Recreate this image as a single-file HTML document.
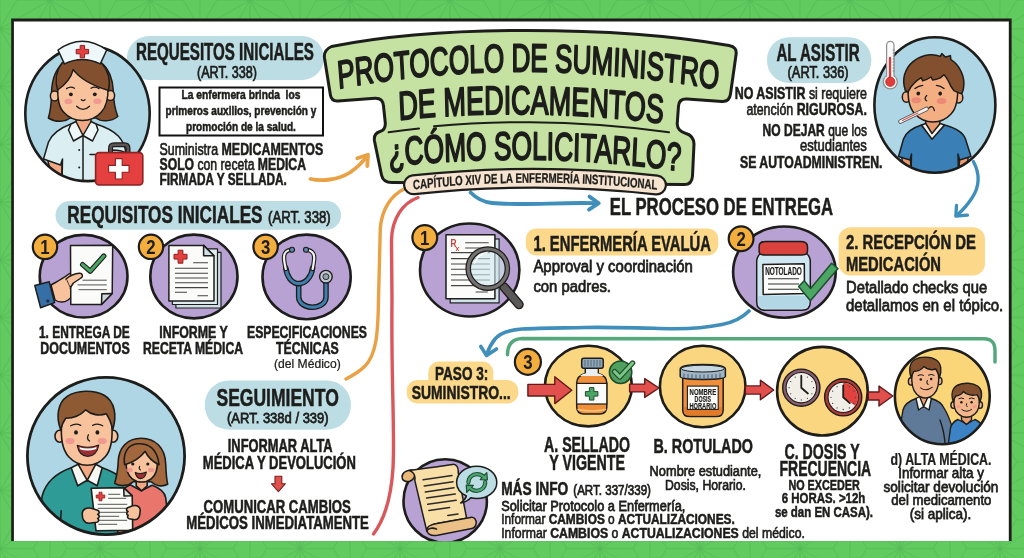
<!DOCTYPE html>
<html lang="es"><head><meta charset="utf-8"><title>Protocolo de suministro de medicamentos</title>
<style>
html,body{margin:0;padding:0;background:#62cb5f;}
body{width:1024px;height:558px;overflow:hidden;font-family:"Liberation Sans",sans-serif;}
svg{display:block;font-family:"Liberation Sans",sans-serif;will-change:transform;-webkit-font-smoothing:antialiased;}
</style></head><body>
<svg width="1024" height="558" viewBox="0 0 1024 558">
<defs>
<pattern id="bgp" width="100" height="57.735" patternUnits="userSpaceOnUse">
<path d="M0.00 0.00 L0.00 57.73 M50.00 0.00 L50.00 57.73 M100.00 0.00 L100.00 57.73 M0.00 28.87 L50.00 0.00 M0.00 28.87 L50.00 57.73 M100.00 28.87 L50.00 0.00 M100.00 28.87 L50.00 57.73 M33.33 28.87 L0.00 28.87 M33.33 28.87 L50.00 0.00 M33.33 28.87 L50.00 57.73 M66.67 28.87 L100.00 28.87 M66.67 28.87 L50.00 0.00 M66.67 28.87 L50.00 57.73 M16.67 0.00 L0.00 28.87 M16.67 0.00 L50.00 0.00 M83.33 0.00 L100.00 28.87 M83.33 0.00 L50.00 0.00 M16.67 57.73 L0.00 28.87 M16.67 57.73 L50.00 57.73 M83.33 57.73 L100.00 28.87 M83.33 57.73 L50.00 57.73" stroke="#53b855" stroke-width="0.8" fill="none"/>
</pattern>
<clipPath id="cpNurse"><ellipse cx="87.5" cy="113.6" rx="62.2" ry="67.5"/></clipPath>
<clipPath id="cpBoy"><ellipse cx="934.9" cy="105" rx="60.5" ry="67.7"/></clipPath>
<clipPath id="cpFam"><circle cx="106" cy="456" r="78.6"/></clipPath>
<clipPath id="cpD"><ellipse cx="942.3" cy="396.2" rx="47.4" ry="48"/></clipPath>
<clipPath id="cpScroll"><circle cx="446" cy="503" r="43.5"/></clipPath>
</defs>
<rect width="1024" height="558" fill="#62cb5f"/>
<rect width="1024" height="558" fill="url(#bgp)"/>
<rect x="11.2" y="18.5" width="1000.4" height="530" fill="#1d1d1b"/>
<rect x="13.9" y="21.5" width="994.9" height="519.8" fill="#ffffff"/>
<rect x="0" y="541.3" width="1024" height="20" fill="#62cb5f"/>
<rect x="0" y="541.3" width="1024" height="20" fill="url(#bgp)"/>
<g fill="none" stroke-linecap="round" stroke-linejoin="round">
<path d="M404 189 C392 195 382 208 380.3 228 L378.5 300 C378 335 376 355 365 366 C360 371 354 375 346 379" stroke="#e9a145" stroke-width="3.4"/>
<path d="M418 197.5 C403 203 392 218 391.5 240 L392 300 C391 380 395 430 393 468 C391 500 384 520 373.5 534" stroke="#d9585c" stroke-width="3.4"/>
<path d="M310.5 179 C322 181.5 338 180 350 172.5 C358 167 363.5 161 367 156" stroke="#e9a145" stroke-width="3.8"/>
<path d="M357.3 158.3 L368 154.8 L367.3 166" stroke="#e9a145" stroke-width="3.8"/>
<path d="M470.6 192.5 C476 198 482 202 492 203 C520 206 560 202 596 203.2" stroke="#3f8fba" stroke-width="3.8"/>
<path d="M589.5 196.6 L598.8 203.2 L589 209.6" stroke="#3f8fba" stroke-width="3.8"/>
<path d="M973.4 161.5 C979.5 173 980 186 972 198 C967 205.5 962 211 957 215" stroke="#3f8fba" stroke-width="3.3"/>
<path d="M956.5 205.5 L955.8 216 L967.5 215.2" stroke="#3f8fba" stroke-width="3.3"/>
<path d="M749 311 C742 318 735 322 722 324.5 C705 328 690 329 670 328.7 C640 328 610 327 585 327.5 C560 328 540 328 522 329 C508 330 500 333 495 339 C491 344 488.5 349 487 354" stroke="#3f8fba" stroke-width="3.6"/>
<path d="M480.8 346.5 L486.6 355.6 L496.5 349" stroke="#3f8fba" stroke-width="3.6"/>
<path d="M507.5 354.7 C507.5 346 511 339 522 338.5 L984 338.8 C992 339 995 343 995 351 L995 362" stroke="#54a87c" stroke-width="3.5"/>
</g>
<rect x="127.0" y="36.0" width="197.0" height="44.0" rx="22.0" fill="#bcdde3"/>
<ellipse cx="87.5" cy="113.6" rx="62.2" ry="67.5" fill="#aed6e5"/>
<g clip-path="url(#cpNurse)">
<path d="M64.4 62 C56 68 52 80 51.5 92 C51.5 103 50.5 111 48.4 118 C56 123 66 121.5 70 118 L96 118 C101 122 111 122 117.8 116.5 C114.5 108 113.5 100 113.3 91 C113 80 109 68 100.3 62 Z" fill="#82502e" stroke="#1d1d1b" stroke-width="1.5" stroke-linejoin="round" stroke-linecap="round"/>
<path d="M47 157 L52 178 L62 181 L62 160 Z" fill="#f2a983" stroke="#1d1d1b" stroke-width="1.5" stroke-linejoin="round" stroke-linecap="round"/>
<path d="M71 124 C60 128 52 134 48.5 142 L43.5 159 L60.5 165 L62.5 159 L62 185 L112 185 L112 150 C118 150 123 151 126 153 C124 140 118 131 96 124 L83 135 Z" fill="#dbeff3" stroke="#1d1d1b" stroke-width="1.5" stroke-linejoin="round" stroke-linecap="round"/>
<path d="M76 114 L76 124 L83 136 L91 124 L91 114 Z" fill="#f2a983" stroke="#1d1d1b" stroke-width="1.5" stroke-linejoin="round" stroke-linecap="round"/>
<path d="M71 124 L76 121.5 L83 135.5 L73.5 141 L68.5 130 Z" fill="#eef8fa" stroke="#1d1d1b" stroke-width="1.5" stroke-linejoin="round" stroke-linecap="round"/>
<path d="M96 124 L91 121.5 L83 135.5 L92.5 141 L98 130 Z" fill="#eef8fa" stroke="#1d1d1b" stroke-width="1.5" stroke-linejoin="round" stroke-linecap="round"/>
<path d="M83 136 L83 185" fill="none" stroke="#1d1d1b" stroke-width="1.5" stroke-linejoin="round" stroke-linecap="round"/>
<path d="M90 154.5 L101 154.5" fill="none" stroke="#1d1d1b" stroke-width="1.5" stroke-linejoin="round" stroke-linecap="round"/>
<circle cx="79.2" cy="150" r="1" fill="#1d1d1b"/><circle cx="79.2" cy="167.5" r="1" fill="#1d1d1b"/>
<ellipse cx="54.6" cy="96" rx="4.2" ry="5" fill="#f7c29c" stroke="#1d1d1b" stroke-width="1.5" stroke-linejoin="round" stroke-linecap="round"/><ellipse cx="110.4" cy="95.5" rx="4.2" ry="5" fill="#f7c29c" stroke="#1d1d1b" stroke-width="1.5" stroke-linejoin="round" stroke-linecap="round"/>
<path d="M58 86 C57 100 59.5 108 64 112.5 C69 118 76 120.5 82.5 120.5 C89 120.5 96 118 101 112.5 C105.5 108 108.5 100 108 86 C106 72 96 66 83 66 C70 66 60 72 58 86 Z" fill="#f7c29c" stroke="#1d1d1b" stroke-width="1.5" stroke-linejoin="round" stroke-linecap="round"/>
<path d="M62 63 C55 72 55.5 83 57.6 90 C65 85 71 78 73.2 69.6 C80 79 94 86 108.6 90.5 C110.5 80 108 70 101.5 63 C90 58 73 58 62 63 Z" fill="#82502e" stroke="#1d1d1b" stroke-width="1.5" stroke-linejoin="round" stroke-linecap="round"/>
<circle cx="70.9" cy="94.3" r="1.9" fill="#1d1d1b"/><circle cx="94.8" cy="94.3" r="1.9" fill="#1d1d1b"/>
<path d="M66.5 88.6 Q70.5 86 74.5 88.2 M91 88.2 Q95 86 99 88.6 M81.3 99.6 Q83 101.6 85 99.8 M76.6 106.2 Q83 112.6 89.5 106.2" fill="none" stroke="#1d1d1b" stroke-width="1.3" stroke-linecap="round"/>
<ellipse cx="68.4" cy="101.4" rx="4" ry="2.7" fill="#f0908f" opacity="0.85"/><ellipse cx="97.4" cy="101.2" rx="4" ry="2.7" fill="#f0908f" opacity="0.85"/>
</g>
<ellipse cx="87.5" cy="113.6" rx="62.2" ry="67.5" fill="none" stroke="#1d1d1b" stroke-width="2.6"/>
<path d="M58 50 Q82.3 32.5 106.7 50 L100.3 63.9 Q82.3 55 64.4 63.9 Z" fill="#eef7fa" stroke="#1d1d1b" stroke-width="1.5" stroke-linejoin="round" stroke-linecap="round"/>
<path d="M80.2 45.4 h4.4 v4 h4 v4.4 h-4 v4 h-4.4 v-4 h-4 v-4.4 h4 z" fill="#e3403f" stroke="#8a2222" stroke-width="1" stroke-linejoin="round"/>
<path d="M110.5 152 V148.5 Q110.5 144.8 114 144.8 H124.5 Q128 144.8 128 148.5 V152" fill="none" stroke="#1d1d1b" stroke-width="5" stroke-linejoin="round"/>
<path d="M110.5 152.5 V148.5 Q110.5 144.8 114 144.8 H124.5 Q128 144.8 128 148.5 V152.5" fill="none" stroke="#5d5555" stroke-width="2.6" stroke-linejoin="round"/>
<rect x="95.6" y="152.6" width="47.2" height="32.4" rx="3.5" fill="#e3403f" stroke="#8a2222" stroke-width="1.6"/>
<path d="M115.4 158.6 h6.8 v6.8 h6.8 v6.8 h-6.8 v6.8 h-6.8 v-6.8 h-6.8 v-6.8 h6.8 z" fill="#fff" stroke="#8a2222" stroke-width="1.1" stroke-linejoin="round"/>
<text transform="translate(136.00 60.30) scale(0.6508 1)" font-size="23.26" font-weight="bold" fill="#1d1d1b" xml:space="preserve" stroke="#1d1d1b" stroke-width="0.55">REQUESITOS INICIALES</text>
<text transform="translate(197.00 77.50) scale(0.7741 1)" font-size="16.28" font-weight="normal" fill="#1d1d1b" xml:space="preserve" stroke="#1d1d1b" stroke-width="0.75">(ART. 338)</text>
<rect x="159.5" y="87.5" width="163.5" height="48" fill="#fff" stroke="#111" stroke-width="2"/>
<text transform="translate(181.50 98.70) scale(0.8010 1)" font-size="12.79" font-weight="bold" fill="#1d1d1b" xml:space="preserve" stroke="#1d1d1b" stroke-width="0.55">La enfermera brinda  los</text>
<text transform="translate(165.50 115.30) scale(0.7867 1)" font-size="12.79" font-weight="bold" fill="#1d1d1b" xml:space="preserve" stroke="#1d1d1b" stroke-width="0.55">primeros auxilios, prevención y</text>
<text transform="translate(186.00 131.30) scale(0.7897 1)" font-size="12.79" font-weight="bold" fill="#1d1d1b" xml:space="preserve" stroke="#1d1d1b" stroke-width="0.55">promoción de la salud.</text>
<text transform="translate(159.50 154.50) scale(0.7767 1)" font-size="15.99" font-weight="normal" fill="#1d1d1b" xml:space="preserve"><tspan font-weight="normal" stroke="#1d1d1b" stroke-width="0.65">Suministra </tspan><tspan font-weight="bold" stroke="#1d1d1b" stroke-width="0.55">MEDICAMENTOS</tspan></text>
<text transform="translate(159.50 169.50) scale(0.7634 1)" font-size="15.99" font-weight="normal" fill="#1d1d1b" xml:space="preserve"><tspan font-weight="bold" stroke="#1d1d1b" stroke-width="0.55">SOLO</tspan><tspan font-weight="normal" stroke="#1d1d1b" stroke-width="0.65"> con receta </tspan><tspan font-weight="bold" stroke="#1d1d1b" stroke-width="0.55">MEDICA</tspan></text>
<text transform="translate(159.50 184.50) scale(0.7411 1)" font-size="15.99" font-weight="bold" fill="#1d1d1b" xml:space="preserve" stroke="#1d1d1b" stroke-width="0.55">FIRMADA Y SELLADA.</text>
<path d="M324.5 58 Q323.5 50 331.5 46.5 C400 33 470 30.5 525 30.5 C600 30.5 670 35 729 45.5 Q737.5 47 736 55 L730.5 94 Q729.5 101.8 722 101.5 L687 99 Q679 98.5 678.5 106 L677.2 124 Q677.5 131 686 133.5 Q693.5 135.5 694 144 L692.5 176 Q692 184.8 684 184.6 L392 182.5 Q383 182.5 381.5 175 L374.5 141 Q373.3 133.5 380 131.5 Q385.6 130 385.3 123 L383.5 106 Q383 98 375 98.3 L338 101 Q331.5 101.5 330.4 95 Z" fill="#c6e2a2" stroke="#1d1d1b" stroke-width="3" stroke-linejoin="round"/>
<g transform="scale(0.6673 1)"><path id="tarc1" d="M507.29 88.80 Q781.54 53.85 1076.77 89.50" fill="none"/><text font-size="39.24" font-weight="normal" fill="#1d1d1b" stroke="#1d1d1b" stroke-width="1.9" stroke-linejoin="round" stroke-linecap="round"><textPath href="#tarc1" textLength="570.4" lengthAdjust="spacing">PROTOCOLO DE SUMINISTRO</textPath></text></g>
<g transform="scale(0.6757 1)"><path id="tarc2" d="M590.49 120.00 Q783.37 106.37 981.93 123.50" fill="none"/><text font-size="39.97" font-weight="normal" fill="#1d1d1b" stroke="#1d1d1b" stroke-width="1.9" stroke-linejoin="round" stroke-linecap="round"><textPath href="#tarc2" textLength="391.5" lengthAdjust="spacing">DE MEDICAMENTOS</textPath></text></g>
<g transform="scale(0.6714 1)"><path id="tarc3" d="M579.41 166.50 Q799.73 150.40 1013.60 171.00" fill="none"/><text font-size="39.24" font-weight="normal" fill="#1d1d1b" stroke="#1d1d1b" stroke-width="1.9" stroke-linejoin="round" stroke-linecap="round"><textPath href="#tarc3" textLength="434.3" lengthAdjust="spacing">¿CÓMO SOLICITARLO?</textPath></text></g>
<path d="M388.6 132.3 Q404 129.8 419 128.4 M434 126.2 Q480 122 530 122.2 Q600 122.5 669 132.3" fill="none" stroke="#1d1d1b" stroke-width="2" stroke-linecap="round"/>
<path d="M413.5 184.8 Q536 171.5 656.5 185" fill="none" stroke="#1d1d1b" stroke-width="21" stroke-linecap="round"/>
<path d="M413.5 184.8 Q536 171.5 656.5 185" fill="none" stroke="#f7e4d0" stroke-width="16.6" stroke-linecap="round"/>
<g transform="scale(0.7213 1)"><path id="tarc4" d="M572.88 189.60 Q744.17 175.50 911.30 189.80" fill="none"/><text font-size="13.52" font-weight="bold" fill="#1d1d1b" stroke="#1d1d1b" stroke-width="0.3"><textPath href="#tarc4" textLength="338.5" lengthAdjust="spacing">CAPÍTULO XIV DE LA ENFERMERÍA INSTITUCIONAL</textPath></text></g>
<rect x="767.0" y="37.3" width="104.3" height="45.7" rx="22.0" fill="#bcdde3"/>
<text transform="translate(776.40 60.90) scale(0.6504 1)" font-size="23.26" font-weight="bold" fill="#1d1d1b" xml:space="preserve" stroke="#1d1d1b" stroke-width="0.55">AL ASISTIR</text>
<text transform="translate(787.60 77.60) scale(0.7883 1)" font-size="16.28" font-weight="normal" fill="#1d1d1b" xml:space="preserve" stroke="#1d1d1b" stroke-width="0.75">(ART. 336)</text>
<text transform="translate(734.70 99.20) scale(0.7927 1)" font-size="15.70" font-weight="normal" fill="#1d1d1b" xml:space="preserve"><tspan font-weight="bold" stroke="#1d1d1b" stroke-width="0.55">NO ASISTIR</tspan><tspan font-weight="normal" stroke="#1d1d1b" stroke-width="0.65"> si requiere</tspan></text>
<text transform="translate(746.40 115.20) scale(0.7899 1)" font-size="15.70" font-weight="normal" fill="#1d1d1b" xml:space="preserve"><tspan font-weight="normal" stroke="#1d1d1b" stroke-width="0.65">atención </tspan><tspan font-weight="bold" stroke="#1d1d1b" stroke-width="0.55">RIGUROSA.</tspan></text>
<text transform="translate(762.60 136.40) scale(0.7671 1)" font-size="15.70" font-weight="normal" fill="#1d1d1b" xml:space="preserve"><tspan font-weight="bold" stroke="#1d1d1b" stroke-width="0.55">NO DEJAR</tspan><tspan font-weight="normal" stroke="#1d1d1b" stroke-width="0.65"> que los</tspan></text>
<text transform="translate(800.00 151.20) scale(0.8345 1)" font-size="15.70" font-weight="normal" fill="#1d1d1b" xml:space="preserve" stroke="#1d1d1b" stroke-width="0.65">estudiantes</text>
<text transform="translate(740.00 167.50) scale(0.7818 1)" font-size="15.70" font-weight="bold" fill="#1d1d1b" xml:space="preserve" stroke="#1d1d1b" stroke-width="0.55">SE AUTOADMINISTREN.</text>
<ellipse cx="934.9" cy="105" rx="60.5" ry="67.7" fill="#aed6e5"/>
<g clip-path="url(#cpBoy)">
<path d="M901 152 L903 166 L911 168 L910 154 Z M960 154 L959 168 L967 166 L969 152 Z" fill="#e99a6c" stroke="#1d1d1b" stroke-width="1.5" stroke-linejoin="round" stroke-linecap="round"/>
<path d="M921.5 125 C912 128 906 132 903.5 139 L898.5 156.5 L910 160 L911.5 154 L911 176 L958.5 176 L958 154 L959.5 160 L971 156.5 L965.5 139 C963 132 956 128 944.5 125 L932 138 Z" fill="#3a7fb6" stroke="#1d1d1b" stroke-width="1.5" stroke-linejoin="round" stroke-linecap="round"/>
<path d="M926 116 L925.5 127 L932 138 L940 127 L939.5 116 Z" fill="#e99a6c" stroke="#1d1d1b" stroke-width="1.5" stroke-linejoin="round" stroke-linecap="round"/>
<path d="M921.5 125 L925.8 123.5 L932 133.5 L940.2 123.5 L944.5 125 L932 139.2 Z" fill="#f4f4f0" stroke="#1d1d1b" stroke-width="1.5" stroke-linejoin="round" stroke-linecap="round"/>
<ellipse cx="906.3" cy="97" rx="4" ry="5.2" fill="#f3ae82" stroke="#1d1d1b" stroke-width="1.5" stroke-linejoin="round" stroke-linecap="round"/><ellipse cx="958.6" cy="97.5" rx="4.2" ry="5.4" fill="#f3ae82" stroke="#1d1d1b" stroke-width="1.5" stroke-linejoin="round" stroke-linecap="round"/>
<path d="M908.5 84 C907 100 910 109 915 114 C920 119.5 927 122 933 122 C939 122 946 119.5 951 114 C956 109 958.5 100 957.5 84 C955 68 945 63 933 63 C921 63 911 68 908.5 84 Z" fill="#f3ae82" stroke="#1d1d1b" stroke-width="1.5" stroke-linejoin="round" stroke-linecap="round"/>
<path d="M908.3 91.5 C906.5 91.5 905.4 91 905.2 90 C903.2 84 903.6 78 904.6 74.5 C906.5 68.5 909.5 64.5 913 61.6 C918 57.6 924 55.4 929.6 54.8 C933.5 54.4 937.5 55.2 940.3 56.4 L941.8 53.6 L945.4 57 L950.4 55.6 L950.8 59.6 C955 62 958 65.5 960 69.4 C962.5 74 964 79 963.9 83.5 C963.8 88 963 91.5 961.6 93.8 C959.5 93 956.5 92 954 90.7 C951.5 88 949.8 84.5 948.6 81.5 C947.4 78.8 945.8 76.4 944 74.7 L940.3 77.9 C937.8 79 935 79.8 932.6 80 L931 77 C928.4 78.8 925.4 80.2 922.7 80.8 L921.2 77.7 C918.8 79.2 916.2 81.2 914.4 83 C911.8 85.4 909.6 88.6 908.3 91.5 Z" fill="#82502e" stroke="#1d1d1b" stroke-width="1.5" stroke-linejoin="round" stroke-linecap="round"/>
<ellipse cx="918.3" cy="93.5" rx="1.8" ry="2.1" fill="#1d1d1b"/><ellipse cx="940.2" cy="93.6" rx="1.8" ry="2.1" fill="#1d1d1b"/>
<path d="M915 88.6 Q918.6 85.6 922.8 85.3 M936.4 85.3 Q940.6 85.6 944 88.6 M926.8 95.6 Q923.4 98.6 926.6 100.8 M928.6 108.4 Q931.6 105 933.4 108 Q934.2 109.4 934.4 110.6" fill="none" stroke="#1d1d1b" stroke-width="1.3" stroke-linecap="round"/>
<ellipse cx="916.2" cy="100.3" rx="4.8" ry="3" fill="#ea7f74" opacity="0.8"/><ellipse cx="941.6" cy="101" rx="4.8" ry="3" fill="#ea7f74" opacity="0.8"/>
<path d="M900.5 121.5 L926.5 109" fill="none" stroke="#555" stroke-width="4.6" stroke-linecap="round"/>
<path d="M900.5 121.5 L926.5 109" fill="none" stroke="#f2f2f2" stroke-width="2.8" stroke-linecap="round"/>
<path d="M902.5 120.6 L918 113.1" fill="none" stroke="#d9534f" stroke-width="1.1" stroke-linecap="round"/>
</g>
<ellipse cx="934.9" cy="105" rx="60.5" ry="67.7" fill="none" stroke="#1d1d1b" stroke-width="2.6"/>
<path d="M890.3 45 V80" fill="none" stroke="#8d8d8d" stroke-width="8.6" stroke-linecap="round"/>
<circle cx="890.3" cy="81.8" r="7.6" fill="#8d8d8d"/>
<path d="M890.3 45 V80" fill="none" stroke="#fbfbfb" stroke-width="6.2" stroke-linecap="round"/>
<circle cx="890.3" cy="81.8" r="6.4" fill="#fbfbfb"/>
<path d="M890 58 V80" fill="none" stroke="#c9403e" stroke-width="2.4" stroke-linecap="round"/>
<circle cx="890.3" cy="81.8" r="4.7" fill="#e03c3a" stroke="#a52a2a" stroke-width="0.7"/>
<path d="M892.6 50h2M892.6 53h2M892.6 56h2M892.6 59h2M892.6 62h2M892.6 65h2M892.6 68h2M892.6 71h2" stroke="#777" stroke-width="0.8"/>
<rect x="55.5" y="201.0" width="285.5" height="28.7" rx="14.3" fill="#bcdde3"/>
<text transform="translate(67.30 223.00) scale(0.6954 1)" font-size="24.71" font-weight="bold" fill="#1d1d1b" xml:space="preserve" stroke="#1d1d1b" stroke-width="0.55">REQUISITOS INICIALES</text>
<text transform="translate(268.00 223.00) scale(0.8102 1)" font-size="16.28" font-weight="normal" fill="#1d1d1b" xml:space="preserve" stroke="#1d1d1b" stroke-width="0.75">(ART. 338)</text>
<ellipse cx="83.6" cy="276.2" rx="43.9" ry="41.3" fill="#b8a2d4" stroke="#1d1d1b" stroke-width="2.6"/>
<ellipse cx="193.9" cy="276.5" rx="43.6" ry="41.9" fill="#b8a2d4" stroke="#1d1d1b" stroke-width="2.6"/>
<ellipse cx="306.6" cy="276.9" rx="44.1" ry="42.3" fill="#b8a2d4" stroke="#1d1d1b" stroke-width="2.6"/>
<path d="M51 285 C58 281 63 278.5 68 274.5 C71 272 75 271.5 78 272.5 L80 290 L68 300 C64 303 58.5 302.5 55 300 Z" fill="#f7c29c" stroke="#1d1d1b" stroke-width="1.5" stroke-linejoin="round" stroke-linecap="round"/>
<path d="M70.5 245.6 L112.7 245.2 L112.2 293.5 L101.5 304.6 L70.8 304.6 Z" fill="#fbfbf9" stroke="#1d1d1b" stroke-width="1.5" stroke-linejoin="round" stroke-linecap="round"/>
<path d="M112.2 293.5 L101.8 293.8 L101.5 304.6 Z" fill="#cfd6da" stroke="#1d1d1b" stroke-width="1.5" stroke-linejoin="round" stroke-linecap="round"/>
<path d="M82.5 280.2 H106.8 M77.5 284.9 H106.8 M78.5 289.7 H106.8" stroke="#555" stroke-width="1" fill="none"/>
<path d="M82.6 264.6 L90.2 271.2 L103.8 256" fill="none" stroke="#1d1d1b" stroke-width="5.2" stroke-linecap="round" stroke-linejoin="round"/>
<path d="M82.6 264.6 L90.2 271.2 L103.8 256" fill="none" stroke="#4ba663" stroke-width="3.0" stroke-linecap="round" stroke-linejoin="round"/>
<path d="M66 279 C70 275.5 75 273.5 79.5 273.2 C82.5 273 83.5 276.5 81 278 L73.5 283 L70 288 Z" fill="#f7c29c" stroke="#1d1d1b" stroke-width="1.5" stroke-linejoin="round" stroke-linecap="round"/>
<path d="M66 279 L70 288 L64 292" fill="#f7c29c" stroke="none"/>
<path d="M34.8 285.6 L49.2 281.8 L54.6 302.6 L40.6 307.8 Z" fill="#366fa6" stroke="#1d1d1b" stroke-width="1.5" stroke-linejoin="round" stroke-linecap="round"/>
<circle cx="47.8" cy="301" r="1.3" fill="#1f3f63" stroke="#1d1d1b" stroke-width="0.6"/>
<path d="M175.9 252.4 H221.0 V308.0 H175.9 Z" fill="#cfe0e6" stroke="#1d1d1b" stroke-width="1.2" stroke-linejoin="round"/>
<path d="M172.4 248.9 H217.5 V304.5 H172.4 Z" fill="#dfecef" stroke="#1d1d1b" stroke-width="1.2" stroke-linejoin="round"/>
<path d="M168.9 245.4 H203.6 L214 255.8 V301 H168.9 Z" fill="#fbfbf9" stroke="#1d1d1b" stroke-width="1.5" stroke-linejoin="round" stroke-linecap="round"/>
<path d="M203.6 245.4 V255.8 H214 Z" fill="#cfe0e6" stroke="#1d1d1b" stroke-width="1.5" stroke-linejoin="round" stroke-linecap="round"/>
<path d="M178.1 250.2 h4.8 v4.1 h4.1 v4.8 h-4.1 v4.1 h-4.8 v-4.1 h-4.1 v-4.8 h4.1 z" fill="#e3403f" stroke="#8a2222" stroke-width="1" stroke-linejoin="round"/>
<path d="M193.2 262.8 H208 M175 268.3 H208 M175 273.2 H208 M175 277.9 H208 M175 282.7 H208 M175 287.6 H208 M175 292.3 H187 M197.5 295.8 H208" stroke="#444" stroke-width="1.05" fill="none"/>
<path d="M326 281.5 V297 C326 303 320 307.2 312.5 307.2 C305 307.2 298.7 303 298.7 297 V284" fill="none" stroke="#1d1d1b" stroke-width="5.6" stroke-linecap="round" stroke-linejoin="round"/>
<path d="M326 281.5 V297 C326 303 320 307.2 312.5 307.2 C305 307.2 298.7 303 298.7 297 V284" fill="none" stroke="#3f7fae" stroke-width="3.0" stroke-linecap="round" stroke-linejoin="round"/>
<path d="M285.8 268 C287 277 292 283.6 298.7 283.6 C305.5 283.6 311.5 277 312.6 268" fill="none" stroke="#1d1d1b" stroke-width="5.6" stroke-linecap="round" stroke-linejoin="round"/>
<path d="M285.8 268 C287 277 292 283.6 298.7 283.6 C305.5 283.6 311.5 277 312.6 268" fill="none" stroke="#3f7fae" stroke-width="3.0" stroke-linecap="round" stroke-linejoin="round"/>
<path d="M291 250 C286.5 250 284 253.5 284 257.5 C284 261.5 285 265.5 285.8 269" fill="none" stroke="#1d1d1b" stroke-width="4.4" stroke-linecap="round" stroke-linejoin="round"/>
<path d="M291 250 C286.5 250 284 253.5 284 257.5 C284 261.5 285 265.5 285.8 269" fill="none" stroke="#f1f1ee" stroke-width="2.2" stroke-linecap="round" stroke-linejoin="round"/>
<path d="M306.8 250 C311.5 250 314.2 253.5 314.2 257.5 C314.2 261.5 313.3 265.5 312.6 269" fill="none" stroke="#1d1d1b" stroke-width="4.4" stroke-linecap="round" stroke-linejoin="round"/>
<path d="M306.8 250 C311.5 250 314.2 253.5 314.2 257.5 C314.2 261.5 313.3 265.5 312.6 269" fill="none" stroke="#f1f1ee" stroke-width="2.2" stroke-linecap="round" stroke-linejoin="round"/>
<circle cx="292" cy="249.8" r="2.5" fill="#5b86ad" stroke="#1d1d1b" stroke-width="1.1"/><circle cx="306" cy="249.8" r="2.5" fill="#5b86ad" stroke="#1d1d1b" stroke-width="1.1"/>
<circle cx="325.9" cy="276.7" r="6.3" fill="#c3c9d0" stroke="#1d1d1b" stroke-width="1.4"/><circle cx="325.9" cy="276.7" r="3" fill="#8ea3ae" stroke="#1d1d1b" stroke-width="0.9"/>
<circle cx="45.0" cy="246.8" r="12.2" fill="#f3ae3e" stroke="#1d1d1b" stroke-width="2.2"/>
<text x="45.0" y="254.1" font-size="21" font-weight="bold" text-anchor="middle" fill="#1d1d1b" transform="translate(45.0 0) scale(0.8 1) translate(-45.0 0)">1</text>
<circle cx="151.0" cy="246.8" r="12.2" fill="#f3ae3e" stroke="#1d1d1b" stroke-width="2.2"/>
<text x="151.0" y="254.1" font-size="21" font-weight="bold" text-anchor="middle" fill="#1d1d1b" transform="translate(151.0 0) scale(0.8 1) translate(-151.0 0)">2</text>
<circle cx="265.6" cy="246.8" r="12.2" fill="#f3ae3e" stroke="#1d1d1b" stroke-width="2.2"/>
<text x="265.6" y="254.1" font-size="21" font-weight="bold" text-anchor="middle" fill="#1d1d1b" transform="translate(265.6 0) scale(0.8 1) translate(-265.6 0)">3</text>
<text transform="translate(39.00 338.20) scale(0.7309 1)" font-size="16.28" font-weight="bold" fill="#1d1d1b" xml:space="preserve" stroke="#1d1d1b" stroke-width="0.55">1. ENTREGA DE</text>
<text transform="translate(40.30 354.30) scale(0.7632 1)" font-size="16.28" font-weight="bold" fill="#1d1d1b" xml:space="preserve" stroke="#1d1d1b" stroke-width="0.55">DOCUMENTOS</text>
<text transform="translate(159.30 338.20) scale(0.7599 1)" font-size="16.28" font-weight="bold" fill="#1d1d1b" xml:space="preserve" stroke="#1d1d1b" stroke-width="0.55">INFORME Y</text>
<text transform="translate(143.00 354.30) scale(0.7471 1)" font-size="16.28" font-weight="bold" fill="#1d1d1b" xml:space="preserve" stroke="#1d1d1b" stroke-width="0.55">RECETA MÉDICA</text>
<text transform="translate(247.00 338.20) scale(0.7495 1)" font-size="16.28" font-weight="bold" fill="#1d1d1b" xml:space="preserve" stroke="#1d1d1b" stroke-width="0.55">ESPECIFICACIONES</text>
<text transform="translate(276.00 354.30) scale(0.7547 1)" font-size="16.28" font-weight="bold" fill="#1d1d1b" xml:space="preserve" stroke="#1d1d1b" stroke-width="0.55">TÉCNICAS</text>
<text transform="translate(274.00 368.40) scale(0.9492 1)" font-size="12.79" font-weight="normal" fill="#1d1d1b" xml:space="preserve" stroke="#1d1d1b" stroke-width="0.25">(del Médico)</text>
<circle cx="106" cy="456" r="78.6" fill="#aed6e5"/>
<g clip-path="url(#cpFam)"><g transform="translate(-0.8 -1.2)">
<path d="M72 469 C58 474 47 482 43 497 L36 545 L150 545 L132 492 C130 484 120 475 103 469 L88 482 Z" fill="#2f9b97" stroke="#1d1d1b" stroke-width="1.6" stroke-linejoin="round" stroke-linecap="round"/>
<path d="M62 512 L60 545" fill="none" stroke="#1d1d1b" stroke-width="1.6" stroke-linejoin="round" stroke-linecap="round"/>
<path d="M142 439.5 C128 439.5 119.5 449 119 463 C118.8 472 117 479 115.5 484.5 C121 488 130 487 134 483 L152 483 C156 487 163 488.5 168.5 485.5 C167 479 166.8 473 166.5 465 C166 449 156 439.5 142 439.5 Z" fill="#a2673c" stroke="#1d1d1b" stroke-width="1.6" stroke-linejoin="round" stroke-linecap="round"/>
<path d="M131 486 C124 489 121 494 120 500 L118 545 L172 545 L166.5 499 C165.5 493 161 489.5 153 486.5 L142 492 Z" fill="#e9766c" stroke="#1d1d1b" stroke-width="1.6" stroke-linejoin="round" stroke-linecap="round"/>
<path d="M137 479 L137 487 L142.5 492 L148 487 L148 479 Z" fill="#f2a983" stroke="#1d1d1b" stroke-width="1.6" stroke-linejoin="round" stroke-linecap="round"/>
<path d="M127 462 C126.5 472 129 477 133 480 C136 482.3 139.5 483.2 142.5 483.2 C145.5 483.2 149 482.3 152 480 C156 477 158.8 472 158 462 C157 452 151 447.5 142.5 447.5 C134 447.5 128 452 127 462 Z" fill="#f7c29c" stroke="#1d1d1b" stroke-width="1.6" stroke-linejoin="round" stroke-linecap="round"/>
<path d="M125.5 466 C123.5 455 128 446 138 445 C149 444 158.5 450 159.8 466 C154 463 148.5 458 146 452.5 C141 459 133 464 125.5 466 Z" fill="#a2673c" stroke="#1d1d1b" stroke-width="1.6" stroke-linejoin="round" stroke-linecap="round"/>
<circle cx="133.6" cy="465.2" r="1.6" fill="#1d1d1b"/><circle cx="148.6" cy="465.2" r="1.6" fill="#1d1d1b"/>
<ellipse cx="130.3" cy="471.2" rx="3.2" ry="2.3" fill="#f0908f" opacity="0.85"/><ellipse cx="152" cy="471.2" rx="3.2" ry="2.3" fill="#f0908f" opacity="0.85"/>
<path d="M140.5 467.5 Q139.2 470 141.2 471.2" fill="none" stroke="#1d1d1b" stroke-width="1.1" stroke-linecap="round"/>
<path d="M136 473.6 Q141.5 476 147.2 473.2 Q146 479.8 141.5 479.8 Q137.2 479.8 136 473.6 Z" fill="#9c2f36" stroke="#1d1d1b" stroke-width="1.1" stroke-linejoin="round"/>
<path d="M80 458 L79.5 470 L88 482 L97 470 L96.5 458 Z" fill="#f2a983" stroke="#1d1d1b" stroke-width="1.6" stroke-linejoin="round" stroke-linecap="round"/>
<path d="M72 469 L79 465.5 L88 481.5 L78.5 487 Z" fill="#f6f6f2" stroke="#1d1d1b" stroke-width="1.6" stroke-linejoin="round" stroke-linecap="round"/><path d="M103 469 L96.5 465.5 L88 481.5 L98 487 Z" fill="#f6f6f2" stroke="#1d1d1b" stroke-width="1.6" stroke-linejoin="round" stroke-linecap="round"/>
<ellipse cx="60.4" cy="437.5" rx="4.6" ry="6" fill="#f7c29c" stroke="#1d1d1b" stroke-width="1.6" stroke-linejoin="round" stroke-linecap="round"/><ellipse cx="114" cy="437.5" rx="4.6" ry="6" fill="#f7c29c" stroke="#1d1d1b" stroke-width="1.6" stroke-linejoin="round" stroke-linecap="round"/>
<path d="M62.5 424 C61 442 64 452 69.5 458 C75 464 82 466.5 88 466.5 C94 466.5 101 464 106 458 C111.5 452 114 442 112.5 424 C110 406 100 401 87.5 401 C75 401 65 406 62.5 424 Z" fill="#f7c29c" stroke="#1d1d1b" stroke-width="1.6" stroke-linejoin="round" stroke-linecap="round"/>
<path d="M61.5 431 C56.5 418 58.5 404 68 397.5 C78 391 95 391 105 396.5 C115.5 402.5 118 417 113.5 431 C112 424 110 419 107 415 C100 417.5 92 416 86.5 411 C82 416 75 419.5 66.5 419.5 C64 423 62.3 427 61.5 431 Z" fill="#8d5a33" stroke="#1d1d1b" stroke-width="1.6" stroke-linejoin="round" stroke-linecap="round"/>
<ellipse cx="76.8" cy="433.6" rx="1.9" ry="2.2" fill="#1d1d1b"/><ellipse cx="98.2" cy="433.6" rx="1.9" ry="2.2" fill="#1d1d1b"/>
<path d="M71.5 427 Q76.5 424 81.5 426.6 M93.5 426.6 Q98.5 424 103.5 427 M89.2 436 Q87 440.5 90.4 442.2" fill="none" stroke="#1d1d1b" stroke-width="1.3" stroke-linecap="round"/>
<ellipse cx="70.8" cy="442.2" rx="4.6" ry="3.1" fill="#f0908f" opacity="0.85"/><ellipse cx="103" cy="442.2" rx="4.6" ry="3.1" fill="#f0908f" opacity="0.85"/>
<path d="M78 446.5 Q88.5 450.5 99.6 446.2 Q97.5 457.5 88.6 457.5 Q80.2 457.5 78 446.5 Z" fill="#9c2f36" stroke="#1d1d1b" stroke-width="1.2" stroke-linejoin="round"/>
<path d="M80.2 448.4 Q88.6 451.2 97.4 448.2 L97 450.2 Q88.6 453.2 80.8 450.4 Z" fill="#fff"/>
<path d="M92 489.5 L124.5 488.8 L133 497 L133.5 531.5 L96.8 532 Z" fill="#fbfbf8" stroke="#1d1d1b" stroke-width="1.6" stroke-linejoin="round" stroke-linecap="round"/>
<path d="M124.5 488.8 L124.8 497.2 L133 497 Z" fill="#dcdcdc" stroke="#1d1d1b" stroke-width="1.6" stroke-linejoin="round" stroke-linecap="round"/>
<path d="M99.8 493.4 h3 v2.8 h2.8 v3 h-2.8 v2.8 h-3 v-2.8 h-2.8 v-3 h2.8 z" fill="#e3403f" stroke="#8a2222" stroke-width="0.8"/>
<path d="M109 495.5 H121 M109 499.5 H127 M98.5 505.5 H128 M98.5 509.5 H128 M98.8 513.5 H128 M99 517.5 H120 M99 521.5 H128 M99.2 525.5 H118" stroke="#444" stroke-width="0.9" fill="none"/>
<path d="M83 515 C83 510.5 87 508.5 92 509.5 L98.5 511.5 C100.5 512.5 100.5 515 98.5 515.5 C100.5 516.5 100.5 519 98.5 519.6 C100 520.8 99.6 523 97.6 523.4 L90 524.5 C85 524.5 83 520.5 83 515 Z" fill="#f7c29c" stroke="#1d1d1b" stroke-width="1.6" stroke-linejoin="round" stroke-linecap="round"/>
<path d="M141 511.5 C141 507.5 137.5 506 133.5 507 L128.5 509 C126.8 510 127 512.2 128.8 512.7 C127 513.8 127.2 516 129 516.5 C127.8 517.8 128.4 519.6 130 520 L135.5 521 C139.5 521 141 517 141 511.5 Z" fill="#f7c29c" stroke="#1d1d1b" stroke-width="1.6" stroke-linejoin="round" stroke-linecap="round"/>
</g></g>
<circle cx="106" cy="456" r="78.6" fill="none" stroke="#1d1d1b" stroke-width="2.8"/>
<rect x="204.8" y="380.5" width="146.1" height="49.2" rx="24.0" fill="#bcdde3"/>
<text transform="translate(216.50 405.50) scale(0.7089 1)" font-size="24.71" font-weight="bold" fill="#1d1d1b" xml:space="preserve" stroke="#1d1d1b" stroke-width="0.55">SEGUIMIENTO</text>
<text transform="translate(227.00 422.90) scale(0.8604 1)" font-size="15.12" font-weight="normal" fill="#1d1d1b" xml:space="preserve" stroke="#1d1d1b" stroke-width="0.75">(ART. 338d / 339)</text>
<text transform="translate(227.80 452.30) scale(0.7383 1)" font-size="17.44" font-weight="bold" fill="#1d1d1b" xml:space="preserve" stroke="#1d1d1b" stroke-width="0.55">INFORMAR ALTA</text>
<text transform="translate(202.80 469.30) scale(0.7468 1)" font-size="17.44" font-weight="bold" fill="#1d1d1b" xml:space="preserve" stroke="#1d1d1b" stroke-width="0.55">MÉDICA Y DEVOLUCIÓN</text>
<path d="M275 476.3 h6.8 v7.4 h3.6 l-7 8 l-7 -8 h3.6 z" fill="#e0514d" stroke="#7a1f1f" stroke-width="1.1" stroke-linejoin="round"/>
<text transform="translate(203.60 512.80) scale(0.7526 1)" font-size="17.44" font-weight="bold" fill="#1d1d1b" xml:space="preserve" stroke="#1d1d1b" stroke-width="0.55">COMUNICAR CAMBIOS</text>
<text transform="translate(186.30 529.00) scale(0.7562 1)" font-size="17.44" font-weight="bold" fill="#1d1d1b" xml:space="preserve" stroke="#1d1d1b" stroke-width="0.55">MÉDICOS INMEDIATAMENTE</text>
<text transform="translate(609.80 214.50) scale(0.7054 1)" font-size="23.69" font-weight="bold" fill="#1d1d1b" xml:space="preserve" stroke="#1d1d1b" stroke-width="0.55">EL PROCESO DE ENTREGA</text>
<ellipse cx="469.7" cy="270" rx="49.7" ry="46.5" fill="#b8a2d4" stroke="#1d1d1b" stroke-width="2.6"/>
<ellipse cx="784.4" cy="272.1" rx="51.3" ry="45.6" fill="#b8a2d4" stroke="#1d1d1b" stroke-width="2.6"/>
<rect x="450.2" y="239" width="48.9" height="63.9" fill="#cfe3e8" stroke="#1d1d1b" stroke-width="1.2"/>
<rect x="446" y="234.8" width="48.9" height="63.9" fill="#fbfbf9" stroke="#1d1d1b" stroke-width="1.5" stroke-linejoin="round" stroke-linecap="round"/>
<text x="450.6" y="247.3" font-size="10.5" font-weight="bold" fill="#c8413f" transform="translate(450.6 0) scale(0.8 1) translate(-450.6 0)">R</text>
<text x="455.4" y="250.6" font-size="8" font-weight="bold" fill="#c8413f" transform="translate(455.4 0) scale(0.85 1) translate(-455.4 0)">x</text>
<path d="M465.2 242.8 H488.7 M465.2 247.9 H488.7 M451 252.6 H490 M451 258.6 H490 M451 263.9 H490 M451 269.2 H490 M451 274.8 H490 M451 279.9 H490 M451 285.6 H490 M475.6 292 H487.8" stroke="#444" stroke-width="1.05" fill="none"/>
<path d="M504 287 L519 304.5" fill="none" stroke="#1d1d1b" stroke-width="9.6" stroke-linecap="round"/>
<path d="M504 287 L519 304.5" fill="none" stroke="#5c5857" stroke-width="6.8" stroke-linecap="round"/>
<circle cx="487.8" cy="268.6" r="19.6" fill="#cfe7ec" fill-opacity="0.62" stroke="#1d1d1b" stroke-width="5.6"/>
<circle cx="487.8" cy="268.6" r="19.6" fill="none" stroke="#73706f" stroke-width="3.2"/>
<path d="M474.5 263 Q478 254 487 252.5" fill="none" stroke="#fff" stroke-width="1.6" stroke-linecap="round" opacity="0.9"/>
<path d="M760.5 253.5 H806.5 C809 255.5 810.3 258 810.3 262 V302 Q810.3 310.2 802 310.2 H765 Q756.7 310.2 756.7 302 V262 C756.7 258 758 255.5 760.5 253.5 Z" fill="#cfe7f0" stroke="#1d1d1b" stroke-width="1.5" stroke-linejoin="round" stroke-linecap="round"/>
<path d="M758.2 296 V302 Q758.2 308.7 765 308.7 H802 Q808.8 308.7 808.8 302 V296 Z" fill="#b4d7e6"/>
<path d="M759.1 246.5 Q759.1 241.5 766 241.5 H800.5 Q807.5 241.5 807.5 246.5 V251.2 Q807.5 254.9 802 254.9 H764.5 Q759.1 254.9 759.1 251.2 Z" fill="#d9423d" stroke="#1d1d1b" stroke-width="1.5" stroke-linejoin="round" stroke-linecap="round"/>
<path d="M762.9 264.6 L804.3 263.8 L804.5 293.6 L763.2 294.4 Z" fill="#fbfbf9" stroke="#1d1d1b" stroke-width="1.5" stroke-linejoin="round" stroke-linecap="round"/>
<text transform="translate(765.20 275.30) scale(0.6132 1)" font-size="10.47" font-weight="bold" fill="#1d1d1b" xml:space="preserve" stroke="#1d1d1b" stroke-width="0.2">NOTOLADO</text>
<path d="M768 278.8 H799 M768 284 H799 M768 289.2 H799" stroke="#333" stroke-width="1.1" fill="none"/>
<path d="M798.6 286.6 L804.2 280.8 L810.6 288.4 L831.6 263.2 L838 268.6 L810.4 300.8 Z" fill="#4ba663" stroke="#1f4d2e" stroke-width="1.5" stroke-linejoin="round"/>
<circle cx="424.8" cy="237.6" r="12.4" fill="#f3ae3e" stroke="#1d1d1b" stroke-width="2.2"/>
<text x="424.8" y="244.9" font-size="21" font-weight="bold" text-anchor="middle" fill="#1d1d1b" transform="translate(424.8 0) scale(0.8 1) translate(-424.8 0)">1</text>
<circle cx="741.1" cy="238.7" r="12.4" fill="#f3ae3e" stroke="#1d1d1b" stroke-width="2.2"/>
<text x="741.1" y="246.0" font-size="21" font-weight="bold" text-anchor="middle" fill="#1d1d1b" transform="translate(741.1 0) scale(0.8 1) translate(-741.1 0)">2</text>
<rect x="525.8" y="228.4" width="192.5" height="27.0" rx="11.0" fill="#fbd88a"/>
<text transform="translate(533.40 251.30) scale(0.6611 1)" font-size="22.38" font-weight="bold" fill="#1d1d1b" xml:space="preserve" stroke="#1d1d1b" stroke-width="0.55">1. ENFERMERÍA EVALÚA</text>
<text transform="translate(533.40 272.00) scale(0.9105 1)" font-size="16.42" font-weight="normal" fill="#1d1d1b" xml:space="preserve" stroke="#1d1d1b" stroke-width="0.75">Approval y coordinación</text>
<text transform="translate(533.40 291.70) scale(0.9041 1)" font-size="16.42" font-weight="normal" fill="#1d1d1b" xml:space="preserve" stroke="#1d1d1b" stroke-width="0.75">con padres.</text>
<rect x="838.6" y="227.2" width="146.4" height="48.4" rx="12.0" fill="#fbd88a"/>
<text transform="translate(846.00 249.30) scale(0.7070 1)" font-size="21.08" font-weight="bold" fill="#1d1d1b" xml:space="preserve" stroke="#1d1d1b" stroke-width="0.55">2. RECEPCIÓN DE</text>
<text transform="translate(846.00 270.70) scale(0.6995 1)" font-size="21.08" font-weight="bold" fill="#1d1d1b" xml:space="preserve" stroke="#1d1d1b" stroke-width="0.55">MEDICACIÓN</text>
<text transform="translate(846.00 293.30) scale(0.8841 1)" font-size="16.72" font-weight="normal" fill="#1d1d1b" xml:space="preserve" stroke="#1d1d1b" stroke-width="0.75">Detallado checks que</text>
<text transform="translate(846.00 310.70) scale(0.8957 1)" font-size="16.72" font-weight="normal" fill="#1d1d1b" xml:space="preserve" stroke="#1d1d1b" stroke-width="0.75">detallamos en el tópico.</text>
<rect x="428.3" y="361.5" width="65.0" height="28.5" rx="11.0" fill="#fbd88a"/>
<rect x="406.7" y="380.0" width="111.6" height="23.5" rx="11.0" fill="#fbd88a"/>
<text transform="translate(435.00 380.00) scale(0.7075 1)" font-size="19.19" font-weight="bold" fill="#1d1d1b" xml:space="preserve" stroke="#1d1d1b" stroke-width="0.55">PASO 3:</text>
<text transform="translate(411.70 399.00) scale(0.7256 1)" font-size="19.19" font-weight="bold" fill="#1d1d1b" xml:space="preserve" stroke="#1d1d1b" stroke-width="0.55">SUMINISTRO...</text>
<ellipse cx="588.4" cy="386.1" rx="43.5" ry="40.3" fill="#fad680" stroke="#1d1d1b" stroke-width="2.6"/>
<ellipse cx="702.7" cy="386.5" rx="42.8" ry="40.8" fill="#fad680" stroke="#1d1d1b" stroke-width="2.6"/>
<ellipse cx="822.4" cy="391.2" rx="45.3" ry="44.3" fill="#fad680" stroke="#1d1d1b" stroke-width="2.6"/>
<path d="M527.9 384.4 H554.8 V376.8 L571.8 390.2 L554.8 403.6 V396.0 H527.9 Z" fill="#e2504d" stroke="#5e1b1b" stroke-width="1.4" stroke-linejoin="round"/>
<path d="M629.6 384.1 H644.7 V378.6 L659.0 388.0 L644.7 397.4 V391.9 H629.6 Z" fill="#e2504d" stroke="#5e1b1b" stroke-width="1.4" stroke-linejoin="round"/>
<path d="M745.4 385.9 H760.4 V380.2 L773.7 390.0 L760.4 399.8 V394.1 H745.4 Z" fill="#e2504d" stroke="#5e1b1b" stroke-width="1.4" stroke-linejoin="round"/>
<path d="M868.3 392.0 H879.0 V386.0 L892.8 396.0 L879.0 406.0 V400.0 H868.3 Z" fill="#e2504d" stroke="#5e1b1b" stroke-width="1.4" stroke-linejoin="round"/>
<path d="M585.3 367 V373.5 C580 375 576.7 378 576.7 383 V407 Q576.7 413.9 584 413.9 H599.5 Q606.8 413.9 606.8 407 V383 C606.8 378 603.5 375 598.2 373.5 V367 Z" fill="#f0913a" stroke="#1d1d1b" stroke-width="1.5" stroke-linejoin="round" stroke-linecap="round"/>
<path d="M586 367.5 V373.2 C583.5 373.8 581.5 374.6 580 376 H603.5 C602 374.6 600 373.8 597.5 373.2 V367.5 Z" fill="#e9eff1"/>
<rect x="576.7" y="383.4" width="30.1" height="20.6" fill="#fbfbf9" stroke="#1d1d1b" stroke-width="1.2"/>
<path d="M578 409.5 Q591.7 412.5 605.6 409.5" stroke="#fbc27c" stroke-width="1.4" fill="none" stroke-linecap="round"/>
<path d="M589.4 387.6 h4.5 v4 h4 v4.5 h-4 v4 h-4.5 v-4 h-4 v-4.5 h4 z" fill="#4ba663" stroke="#1f4d2e" stroke-width="1" stroke-linejoin="round"/>
<rect x="581.7" y="358.3" width="21.5" height="9.9" rx="2" fill="#8fa6b6" stroke="#1d1d1b" stroke-width="1.5" stroke-linejoin="round" stroke-linecap="round"/>
<path d="M585 360 v6.6 M588 360 v6.6 M591 360 v6.6 M594 360 v6.6 M597 360 v6.6 M600 360 v6.6" stroke="#44586a" stroke-width="0.8"/>
<circle cx="620.6" cy="372.2" r="11.2" fill="#4f9f5f" stroke="#1f4d2e" stroke-width="1.5"/>
<path d="M614.6 371.6 L619.8 377 L632.6 363" fill="none" stroke="#1f4d2e" stroke-width="5.4" stroke-linecap="round" stroke-linejoin="round"/>
<path d="M614.6 371.6 L619.8 377 L632.6 363" fill="none" stroke="#7cc686" stroke-width="3" stroke-linecap="round" stroke-linejoin="round"/>
<path d="M682.7 377 H723.2 V410 Q723.2 416.6 716 416.6 H690 Q682.7 416.6 682.7 410 Z" fill="#ef8e3b" stroke="#1d1d1b" stroke-width="1.5" stroke-linejoin="round" stroke-linecap="round"/>
<path d="M684.2 407 V410 Q684.2 415.2 690 415.2 H716 Q721.8 415.2 721.8 410 V407 Q703 411 684.2 407 Z" fill="#e27a2a"/>
<rect x="687.4" y="386.1" width="30.8" height="23.3" fill="#fbfbf9" stroke="#1d1d1b" stroke-width="1.1"/>
<text transform="translate(689.60 394.90) scale(0.6979 1)" font-size="8.58" font-weight="bold" fill="#1d1d1b" xml:space="preserve" stroke="#1d1d1b" stroke-width="0.15">NOMBRE</text>
<text transform="translate(694.60 401.70) scale(0.6146 1)" font-size="8.58" font-weight="bold" fill="#1d1d1b" xml:space="preserve" stroke="#1d1d1b" stroke-width="0.15">DOSIS</text>
<text transform="translate(689.40 408.50) scale(0.6667 1)" font-size="8.58" font-weight="bold" fill="#1d1d1b" xml:space="preserve" stroke="#1d1d1b" stroke-width="0.15">HORARIO</text>
<path d="M680.2 369 Q680.2 364.6 702.8 364.6 Q725.4 364.6 725.4 369 V376.5 Q725.4 379.4 702.8 379.4 Q680.2 379.4 680.2 376.5 Z" fill="#9fb4c4" stroke="#1d1d1b" stroke-width="1.5" stroke-linejoin="round" stroke-linecap="round"/>
<ellipse cx="702.8" cy="368.6" rx="21.4" ry="3.4" fill="#c7d7e2" stroke="#1d1d1b" stroke-width="1"/>
<path d="M684 373.5 v4.6 M688 374 v4.8 M692 374.3 v5 M696 374.5 v5 M700 374.6 v5 M704 374.6 v5 M708 374.5 v5 M712 374.3 v5 M716 374 v4.8 M720 373.5 v4.6" stroke="#3e5366" stroke-width="0.9"/>
<circle cx="801.3" cy="387.7" r="18.6" fill="#8c6070" stroke="#1d1d1b" stroke-width="1.4"/>
<circle cx="801.3" cy="387.7" r="15.2" fill="#f1eee8" stroke="#1d1d1b" stroke-width="1.1"/>
<circle cx="801.3" cy="375.5" r="0.65" fill="#444"/><circle cx="807.4" cy="377.1" r="0.65" fill="#444"/><circle cx="811.9" cy="381.6" r="0.65" fill="#444"/><circle cx="813.5" cy="387.7" r="0.65" fill="#444"/><circle cx="811.9" cy="393.8" r="0.65" fill="#444"/><circle cx="807.4" cy="398.3" r="0.65" fill="#444"/><circle cx="801.3" cy="399.9" r="0.65" fill="#444"/><circle cx="795.2" cy="398.3" r="0.65" fill="#444"/><circle cx="790.7" cy="393.8" r="0.65" fill="#444"/><circle cx="789.1" cy="387.7" r="0.65" fill="#444"/><circle cx="790.7" cy="381.6" r="0.65" fill="#444"/><circle cx="795.2" cy="377.1" r="0.65" fill="#444"/>
<path d="M801.3 387.7 V376.0 M801.3 387.7 L807.9 393.5" stroke="#1d1d1b" stroke-width="1.8" stroke-linecap="round" fill="none"/>
<circle cx="843.2" cy="397.3" r="18.6" fill="#b53b37" stroke="#1d1d1b" stroke-width="1.4"/>
<circle cx="843.2" cy="397.3" r="15.2" fill="#f1eee8" stroke="#1d1d1b" stroke-width="1.1"/>
<path d="M843.2 397.3 V382.7 A14.6 14.6 0 0 1 855.2 405.7 Z" fill="#e2423e"/>
<circle cx="843.2" cy="385.1" r="0.65" fill="#444"/><circle cx="849.3" cy="386.7" r="0.65" fill="#444"/><circle cx="853.8" cy="391.2" r="0.65" fill="#444"/><circle cx="855.4" cy="397.3" r="0.65" fill="#444"/><circle cx="853.8" cy="403.4" r="0.65" fill="#444"/><circle cx="849.3" cy="407.9" r="0.65" fill="#444"/><circle cx="843.2" cy="409.5" r="0.65" fill="#444"/><circle cx="837.1" cy="407.9" r="0.65" fill="#444"/><circle cx="832.6" cy="403.4" r="0.65" fill="#444"/><circle cx="831.0" cy="397.3" r="0.65" fill="#444"/><circle cx="832.6" cy="391.2" r="0.65" fill="#444"/><circle cx="837.1" cy="386.7" r="0.65" fill="#444"/>
<path d="M843.2 397.3 V385.6 M843.2 397.3 L849.8 403.1" stroke="#1d1d1b" stroke-width="1.8" stroke-linecap="round" fill="none"/>
<ellipse cx="942.3" cy="396.2" rx="47.4" ry="48" fill="#fbd679"/>
<g clip-path="url(#cpD)">
<path d="M916 398.5 C909 401 904.5 404 903 410 L896 450 L952 450 L952.5 428 C950 420 946.5 412 944 408 C942 403.5 938 400.5 931.4 398.5 L923.5 407 Z" fill="#5f7a98" stroke="#1d1d1b" stroke-width="1.4" stroke-linejoin="round" stroke-linecap="round"/>
<path d="M906 428 L904.5 450 M940 420 C943 428 945 436 945.5 450" fill="none" stroke="#1d1d1b" stroke-width="1.4" stroke-linejoin="round" stroke-linecap="round"/>
<path d="M919.5 391 V400 L923.5 407 L928.5 400 V391 Z" fill="#ec9f72" stroke="#1d1d1b" stroke-width="1.4" stroke-linejoin="round" stroke-linecap="round"/>
<path d="M916 398.5 L919.6 396.5 L923.6 406.5 L918.6 410 Z M931.4 398.5 L928.2 396.5 L923.6 406.5 L929 410 Z" fill="#f6f6f2" stroke="#1d1d1b" stroke-width="1.4" stroke-linejoin="round" stroke-linecap="round"/>
<ellipse cx="911" cy="381.4" rx="2.6" ry="3.6" fill="#f4b78c" stroke="#1d1d1b" stroke-width="1.4" stroke-linejoin="round" stroke-linecap="round"/><ellipse cx="939.4" cy="381" rx="2.6" ry="3.6" fill="#f4b78c" stroke="#1d1d1b" stroke-width="1.4" stroke-linejoin="round" stroke-linecap="round"/>
<path d="M912 374 C911 385 913 390.5 916.5 394 C919.5 397 922.5 398 925.3 398 C928 398 931 397 934 394 C937.5 390.5 939.5 385 938.5 374 C937 364.5 932 362 925.3 362 C918.5 362 913.5 364.5 912 374 Z" fill="#f4b78c" stroke="#1d1d1b" stroke-width="1.4" stroke-linejoin="round" stroke-linecap="round"/>
<path d="M911.3 378 C908.3 370 909.6 362.5 915 359.5 C921 356 931 356.5 936.2 360 C941.5 363.5 942 371 939.3 378 C938.6 374 937.4 371.4 935.8 369 C931.5 370.4 927 369.4 924 366.6 C921.5 369.6 918 371.4 914 371.4 C912.6 373.4 911.7 375.6 911.3 378 Z" fill="#82502e" stroke="#1d1d1b" stroke-width="1.4" stroke-linejoin="round" stroke-linecap="round"/>
<circle cx="920.8" cy="379.4" r="1.25" fill="#1d1d1b"/><circle cx="931.2" cy="379" r="1.25" fill="#1d1d1b"/>
<path d="M918 375.6 Q920.8 374 923.4 375.4 M928.6 375.2 Q931.2 373.8 934 375.4 M927.4 380.5 Q926 383.5 928.2 384.4 M920.6 387.8 Q926 392 932.4 387.2" fill="none" stroke="#1d1d1b" stroke-width="1.05" stroke-linecap="round"/>
<path d="M958 419.5 C953.5 421.5 951.5 424 950.5 428 L947.5 450 L988 450 L983 428 C982 424 979.5 421.5 975 419.5 L966.5 424 Z" fill="#3b83c5" stroke="#1d1d1b" stroke-width="1.4" stroke-linejoin="round" stroke-linecap="round"/>
<path d="M961.5 413 V420 L966.5 424.5 L971.5 420 V413 Z" fill="#ec9f72" stroke="#1d1d1b" stroke-width="1.4" stroke-linejoin="round" stroke-linecap="round"/>
<ellipse cx="953.4" cy="405" rx="2.5" ry="3.4" fill="#f4b78c" stroke="#1d1d1b" stroke-width="1.4" stroke-linejoin="round" stroke-linecap="round"/><ellipse cx="980" cy="405" rx="2.5" ry="3.4" fill="#f4b78c" stroke="#1d1d1b" stroke-width="1.4" stroke-linejoin="round" stroke-linecap="round"/>
<path d="M954 399 C953.4 407 955.4 411.5 958.4 414 C961 416.3 964 417.2 966.6 417.2 C969.2 417.2 972.2 416.3 974.8 414 C977.8 411.5 979.8 407 979.2 399 C978 391.5 973 389.5 966.6 389.5 C960.2 389.5 955.2 391.5 954 399 Z" fill="#f4b78c" stroke="#1d1d1b" stroke-width="1.4" stroke-linejoin="round" stroke-linecap="round"/>
<path d="M953.3 402 C950.6 394 952.4 387.6 958 385 C964 382.2 973 382.8 977.6 386 C982 389.2 982.8 395.6 980 402 C979.3 398.6 978.3 396.4 977 394.6 C972 395.8 966.5 394.6 963.4 391.6 C961.4 394.4 958.6 395.8 955.8 396 C954.4 397.8 953.7 399.8 953.3 402 Z" fill="#82502e" stroke="#1d1d1b" stroke-width="1.4" stroke-linejoin="round" stroke-linecap="round"/>
<circle cx="961.4" cy="402.2" r="1.2" fill="#1d1d1b"/><circle cx="971.6" cy="402.2" r="1.2" fill="#1d1d1b"/>
<path d="M958.8 398.6 Q961.4 397.2 963.8 398.6 M969.2 398.6 Q971.6 397.2 974.2 398.6 M966.6 403.6 Q965.4 406 967.2 406.8 M961.8 409.6 Q966.6 413.2 971.6 409.4" fill="none" stroke="#1d1d1b" stroke-width="1" stroke-linecap="round"/>
<ellipse cx="958.6" cy="406.6" rx="2.3" ry="1.6" fill="#f0908f" opacity="0.6"/><ellipse cx="974.6" cy="406.6" rx="2.3" ry="1.6" fill="#f0908f" opacity="0.6"/>
</g>
<ellipse cx="942.3" cy="396.2" rx="47.4" ry="48" fill="none" stroke="#1d1d1b" stroke-width="2.6"/>
<circle cx="527.9" cy="361.9" r="13.0" fill="#f3ae3e" stroke="#1d1d1b" stroke-width="2.2"/>
<text x="527.9" y="369.2" font-size="21" font-weight="bold" text-anchor="middle" fill="#1d1d1b" transform="translate(527.9 0) scale(0.8 1) translate(-527.9 0)">3</text>
<text transform="translate(544.00 451.70) scale(0.6602 1)" font-size="21.51" font-weight="bold" fill="#1d1d1b" xml:space="preserve" stroke="#1d1d1b" stroke-width="0.55">A. SELLADO</text>
<text transform="translate(549.30 470.00) scale(0.6619 1)" font-size="21.51" font-weight="bold" fill="#1d1d1b" xml:space="preserve" stroke="#1d1d1b" stroke-width="0.55">Y VIGENTE</text>
<text transform="translate(653.50 452.50) scale(0.7042 1)" font-size="20.35" font-weight="bold" fill="#1d1d1b" xml:space="preserve" stroke="#1d1d1b" stroke-width="0.55">B. ROTULADO</text>
<text transform="translate(649.60 476.40) scale(0.8394 1)" font-size="15.26" font-weight="normal" fill="#1d1d1b" xml:space="preserve" stroke="#1d1d1b" stroke-width="0.75">Nombre estudiante,</text>
<text transform="translate(665.00 490.00) scale(0.8026 1)" font-size="15.26" font-weight="normal" fill="#1d1d1b" xml:space="preserve" stroke="#1d1d1b" stroke-width="0.75">Dosis, Horario.</text>
<text transform="translate(784.50 459.00) scale(0.6666 1)" font-size="21.22" font-weight="bold" fill="#1d1d1b" xml:space="preserve" stroke="#1d1d1b" stroke-width="0.55">C. DOSIS Y</text>
<text transform="translate(779.50 475.70) scale(0.6592 1)" font-size="21.22" font-weight="bold" fill="#1d1d1b" xml:space="preserve" stroke="#1d1d1b" stroke-width="0.55">FRECUENCIA</text>
<text transform="translate(788.40 490.00) scale(0.7133 1)" font-size="15.12" font-weight="bold" fill="#1d1d1b" xml:space="preserve" stroke="#1d1d1b" stroke-width="0.55">NO EXCEDER</text>
<text transform="translate(781.80 503.40) scale(0.7568 1)" font-size="15.12" font-weight="bold" fill="#1d1d1b" xml:space="preserve" stroke="#1d1d1b" stroke-width="0.55">6 HORAS. &gt;12h</text>
<text transform="translate(774.90 516.90) scale(0.7584 1)" font-size="15.12" font-weight="bold" fill="#1d1d1b" xml:space="preserve" stroke="#1d1d1b" stroke-width="0.55">se dan EN CASA).</text>
<text transform="translate(890.50 464.90) scale(0.7737 1)" font-size="15.99" font-weight="bold" fill="#1d1d1b" xml:space="preserve" stroke="#1d1d1b" stroke-width="0.25">d) ALTA MÉDICA.</text>
<text transform="translate(898.20 478.40) scale(0.8881 1)" font-size="15.12" font-weight="normal" fill="#1d1d1b" xml:space="preserve" stroke="#1d1d1b" stroke-width="0.75">Informar alta y</text>
<text transform="translate(883.50 491.80) scale(0.8997 1)" font-size="15.12" font-weight="normal" fill="#1d1d1b" xml:space="preserve" stroke="#1d1d1b" stroke-width="0.75">solicitar devolución</text>
<text transform="translate(891.30 505.30) scale(0.8704 1)" font-size="15.12" font-weight="normal" fill="#1d1d1b" xml:space="preserve" stroke="#1d1d1b" stroke-width="0.75">del medicamento</text>
<text transform="translate(909.70 518.80) scale(0.8958 1)" font-size="15.12" font-weight="normal" fill="#1d1d1b" xml:space="preserve" stroke="#1d1d1b" stroke-width="0.75">(si aplica).</text>
<circle cx="445.2" cy="501" r="41.7" fill="#b8a2d4" stroke="#1d1d1b" stroke-width="2.6"/>
<path d="M413.5 470.2 C407 469.6 402 472.6 402 477 C402 480.6 405.4 482 409 481.4 C412.6 480.8 415 477.6 414.8 474 Z" fill="#e7b877" stroke="#1d1d1b" stroke-width="1.5" stroke-linejoin="round" stroke-linecap="round"/>
<path d="M409 470.4 C425 468.4 440 466.2 452.6 464.4 C456.8 464 458.6 468 458.2 472.4 C461 488 463.6 503 466.6 518.2 L437 523.6 C431 524.6 428 527.6 426.8 531 C422.6 514 419 498 414.8 480.4 C415.6 476 413.6 472 409 470.4 Z" fill="#f8dfa7" stroke="#1d1d1b" stroke-width="1.5" stroke-linejoin="round" stroke-linecap="round"/>
<path d="M423.1 479.8 L452 475.5 M424.2 485.9 L453 481.7 M425.3 491.9 L454 487.8 M426.6 498.1 L455.2 494.1 M427.7 504.3 L456.2 500.3 M428.9 510.5 L449.6 507.5 M447.8 515.4 L458 514" stroke="#2a2a2a" stroke-width="1.5" fill="none" stroke-linecap="round"/>
<path d="M437 523.6 L470.6 517.4 C474.6 516.8 476.6 520 476.2 523.4 C475.8 526.6 473.4 528.4 470.6 528.8 L437.5 535.2 C432 536 428 534.4 426.8 531 C426.4 527.4 430 524.6 437 523.6 Z" fill="#ebc086" stroke="#1d1d1b" stroke-width="1.5" stroke-linejoin="round" stroke-linecap="round"/>
<path d="M426.8 531 C428.6 527.8 433 527.4 436.6 529.2" fill="none" stroke="#1d1d1b" stroke-width="1.5" stroke-linejoin="round" stroke-linecap="round"/>
<path d="M466.4 496 C459.6 492.6 456.6 487.8 456.6 482.4 C456.6 473.4 465.6 466.2 476.7 466.2 C487.8 466.2 496.8 473.4 496.8 482.4 C496.8 491.4 487.8 498.6 476.7 498.6 C474.6 498.6 472.8 498.4 470.8 497.8 C468.4 500.6 464.6 502.4 460.6 503 C463.4 501 465.6 498.8 466.4 496 Z" fill="#bcdde4" stroke="#1d1d1b" stroke-width="1.5" stroke-linejoin="round" stroke-linecap="round"/>
<path d="M468.4 482.6 C468.4 477.6 472.2 474.2 476.9 474.2 C479.6 474.2 481.8 475.2 483.4 476.8" fill="none" stroke="#1f4d2e" stroke-width="4.2" stroke-linecap="round"/>
<path d="M485.2 482.2 C485.2 487.2 481.4 490.8 476.7 490.8 C474 490.8 471.8 489.8 470.2 488.2" fill="none" stroke="#1f4d2e" stroke-width="4.2" stroke-linecap="round"/>
<path d="M480.2 479.6 L487.4 479.8 L486.8 472.6 Z M473.4 485.4 L466.2 485.2 L466.8 492.4 Z" fill="#4ba874" stroke="#1f4d2e" stroke-width="1.2" stroke-linejoin="round"/>
<path d="M468.4 482.6 C468.4 477.6 472.2 474.2 476.9 474.2 C479.6 474.2 481.8 475.2 483.4 476.8" fill="none" stroke="#4ba874" stroke-width="2.2" stroke-linecap="round"/>
<path d="M485.2 482.2 C485.2 487.2 481.4 490.8 476.7 490.8 C474 490.8 471.8 489.8 470.2 488.2" fill="none" stroke="#4ba874" stroke-width="2.2" stroke-linecap="round"/>
<text transform="translate(501.20 494.80) scale(0.7677 1)" font-size="17.88" font-weight="bold" fill="#1d1d1b" xml:space="preserve" stroke="#1d1d1b" stroke-width="0.55">MÁS INFO</text>
<text transform="translate(573.30 494.80) scale(0.8302 1)" font-size="13.95" font-weight="normal" fill="#1d1d1b" xml:space="preserve" stroke="#1d1d1b" stroke-width="0.75">(ART. 337/339)</text>
<text transform="translate(501.20 511.30) scale(0.8808 1)" font-size="14.53" font-weight="normal" fill="#1d1d1b" xml:space="preserve" stroke="#1d1d1b" stroke-width="0.75">Solicitar Protocolo a Enfermería,</text>
<text transform="translate(501.20 523.80) scale(0.8178 1)" font-size="14.53" font-weight="normal" fill="#1d1d1b" xml:space="preserve" stroke="#1d1d1b" stroke-width="0.3"><tspan font-weight="normal" stroke="#1d1d1b" stroke-width="0.65">Informar </tspan><tspan font-weight="bold" stroke="#1d1d1b" stroke-width="0.55">CAMBIOS</tspan><tspan font-weight="normal" stroke="#1d1d1b" stroke-width="0.65"> o </tspan><tspan font-weight="bold" stroke="#1d1d1b" stroke-width="0.55">ACTUALIZACIONES.</tspan></text>
<text transform="translate(501.20 537.60) scale(0.8434 1)" font-size="14.53" font-weight="normal" fill="#1d1d1b" xml:space="preserve" stroke="#1d1d1b" stroke-width="0.3"><tspan font-weight="normal" stroke="#1d1d1b" stroke-width="0.65">Informar </tspan><tspan font-weight="bold" stroke="#1d1d1b" stroke-width="0.55">CAMBIOS</tspan><tspan font-weight="normal" stroke="#1d1d1b" stroke-width="0.65"> o </tspan><tspan font-weight="bold" stroke="#1d1d1b" stroke-width="0.55">ACTUALIZACIONES</tspan><tspan font-weight="normal" stroke="#1d1d1b" stroke-width="0.65"> del médico.</tspan></text>
<rect x="0" y="541.3" width="1024" height="20" fill="#62cb5f"/>
<rect x="0" y="541.3" width="1024" height="20" fill="url(#bgp)"/>
</svg>
</body></html>
